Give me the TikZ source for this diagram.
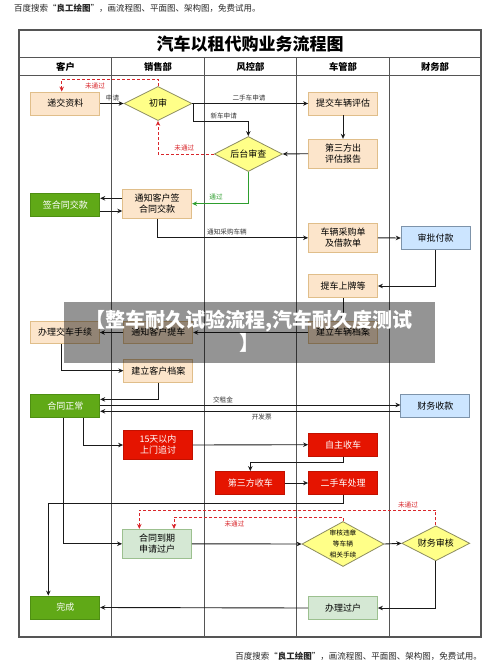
\documentclass[tikz,border=0pt]{standalone}
\usepackage{fontspec}
\setmainfont{Noto Sans CJK SC}
\usetikzlibrary{shapes.geometric,arrows.meta,calc}
\definecolor{ofill}{HTML}{FCE5CB}
\definecolor{odraw}{HTML}{E0BE8A}
\definecolor{yfill}{HTML}{FFFF88}
\definecolor{ydraw}{HTML}{8C8C60}
\definecolor{gfill}{HTML}{60A917}
\definecolor{gdraw}{HTML}{4E8F12}
\definecolor{bfill}{HTML}{CCE5FF}
\definecolor{bdraw}{HTML}{7D93AA}
\definecolor{rfill}{HTML}{E51400}
\definecolor{rdraw}{HTML}{C21100}
\definecolor{lgfill}{HTML}{D5E8D4}
\definecolor{lgdraw}{HTML}{9CC08F}
\definecolor{redline}{HTML}{D9262B}
\definecolor{greenline}{HTML}{2E9E2E}
\definecolor{laneline}{HTML}{555555}
\definecolor{conn}{HTML}{1A1A1A}
\tikzset{
  basebox/.style={draw, minimum width=69pt, minimum height=23pt, inner sep=0pt, align=center, font=\fontsize{9}{11}\selectfont, line width=0.8pt},
  obox/.style={basebox, fill=ofill, draw=odraw},
  gbox/.style={basebox, fill=gfill, draw=gdraw, text=white},
  bbox/.style={basebox, fill=bfill, draw=bdraw},
  rbox/.style={basebox, fill=rfill, draw=rdraw, text=white},
  lgbox/.style={basebox, fill=lgfill, draw=lgdraw},
  tall/.style={minimum height=29pt},
  dia/.style={diamond, aspect=2, draw=ydraw, fill=yfill, line width=0.8pt, inner sep=0pt, minimum width=68pt, minimum height=34pt, font=\fontsize{9}{11}\selectfont},
  arr/.style={draw=conn, line width=0.9pt, -{Stealth[length=5pt,width=4.5pt]}},
  rarr/.style={draw=redline, line width=0.9pt, dash pattern=on 3pt off 2pt, -{Stealth[length=5pt,width=4.5pt]}},
  garr/.style={draw=greenline, line width=0.9pt, -{Stealth[length=5pt,width=4.5pt]}},
  lbl/.style={font=\fontsize{6.6}{8}\selectfont, inner sep=0.5pt, text=black!80},
  rlbl/.style={font=\fontsize{6.6}{8}\selectfont, inner sep=0.5pt, text=redline},
  glbl/.style={font=\fontsize{6.6}{8}\selectfont, inner sep=0.5pt, text=greenline},
  hdr/.style={font=\fontsize{9.3}{11}\selectfont\bfseries},
  wm/.style={font=\fontsize{8.5}{10}\selectfont, text=black!85, inner sep=0pt}
}
\begin{document}
\begin{tikzpicture}[x=1pt,y=-1pt]
\useasboundingbox (0,0) rectangle (500,666);
\fill[white] (0,0) rectangle (500,666);

% watermarks
\node[wm, anchor=west] (wmtop) at (14,8) {百度搜索“\textbf{良工绘图}”，画流程图、平面图、架构图，免费试用。};
\node[wm, anchor=east] (wmbot) at (482,656) {百度搜索“\textbf{良工绘图}”，画流程图、平面图、架构图，免费试用。};

% frame
\draw[laneline, line width=1.1pt] (19,30) rectangle (481,637);
\draw[laneline, line width=1pt] (19,58) -- (481,58);
\draw[laneline, line width=1pt] (19,75.5) -- (481,75.5);
\foreach \xx in {111.7,204,296.7,389.3} \draw[laneline, line width=1pt] (\xx,58) -- (\xx,637);

\node[font=\fontsize{17}{20}\selectfont\bfseries] (title) at (250,44) {汽车以租代购业务流程图};
\node[hdr] (h1) at (65.5,67) {客户};
\node[hdr] (h2) at (158,67) {销售部};
\node[hdr] (h3) at (250.5,67) {风控部};
\node[hdr] (h4) at (343,67) {车管部};
\node[hdr] (h5) at (435,67) {财务部};

% nodes
\node[obox] (djzl) at (65.3,103.5) {递交资料};
\node[dia] (cs) at (158,103.5) {初审};
\node[obox] (tjpg) at (343,103.5) {提交车辆评估};
\node[obox, tall] (dsfbg) at (343,153.7) {第三方出\\评估报告};
\node[dia, minimum height=35pt] (htsc) at (248.3,154) {后台审查};
\node[gbox] (qht) at (65.3,204.7) {签合同交款};
\node[obox, tall] (tzqy) at (157.2,203.7) {通知客户签\\合同交款};
\node[obox, tall] (clcg) at (343,237.8) {车辆采购单\\及借款单};
\node[bbox] (spfk) at (435.7,238) {审批付款};
\node[obox] (tcsp) at (343,286) {提车上牌等};
\node[obox, minimum height=22pt] (jlcl) at (343,332.5) {建立车辆档案};
\node[obox, minimum height=22pt] (tzkt) at (158.3,332.5) {通知客户提车};
\node[obox, minimum height=22pt] (bljc) at (65,332.5) {办理交车手续};
\node[obox] (jlkh) at (158.3,370.7) {建立客户档案};
\node[gbox] (htzc) at (65.3,405.7) {合同正常};
\node[bbox] (cwsk) at (435.3,405.7) {财务收款};
\node[rbox, tall] (zt15) at (158,445) {15天以内\\上门追讨};
\node[rbox] (zzsc) at (343,444.7) {自主收车};
\node[rbox] (dsfsc) at (250.3,483) {第三方收车};
\node[rbox] (escl) at (343,483) {二手车处理};
\node[lgbox, tall] (htdq) at (157,543.8) {合同到期\\申请过户};
\node[dia, minimum width=82pt, minimum height=45pt] (shwz) at (343,544) {};
\node[font=\fontsize{6.7}{11}\selectfont, align=center, inner sep=0pt] (shwzt) at (shwz) {审核违章\\等车辆\\相关手续};
\node[dia, minimum height=35pt] (cwsh) at (435.8,543.3) {财务审核};
\node[lgbox] (blgh) at (343,608) {办理过户};
\node[gbox] (wc) at (65.3,607.5) {完成};

% connectors
\draw[arr] (djzl.east) -- (cs.west);
\node[lbl] (l1) at (112.5,98) {申请};
\draw[rarr] (cs.north) -- ++(0,-6.7) -| ([xshift=-3.6pt]djzl.north);
\node[rlbl] (l2) at (95,85.5) {未通过};
\draw[arr] (cs.east) -- (tjpg.west);
\node[lbl] (l3) at (249,98) {二手车申请};
\draw[arr] (cs.east) -- ++(1,0) -- ++(0,18.3) -| (htsc.north);
\node[lbl] (l4) at (223.7,116) {新车申请};
\draw[arr] (tjpg.south) -- (dsfbg.north);
\draw[arr] (dsfbg.west) -- (htsc.east);
\draw[rarr] (htsc.west) -| (cs.south);
\node[rlbl] (l5) at (184.3,148.3) {未通过};
\draw[garr] (htsc.south) |- (tzqy.east);
\node[glbl] (l6) at (216,197.3) {通过};
\draw[arr] ([yshift=5.4pt]tzqy.west) -- ([yshift=5.4pt]tzqy.west -| qht.east);
\draw[arr] ([yshift=-7.3pt]tzqy.west -| qht.east) -- ([yshift=-7.3pt]tzqy.west);
\draw[arr] (tzqy.south) |- (clcg.west);
\node[lbl] (l7) at (227,232.3) {通知采购车辆};
\draw[arr] (clcg.east) -- (spfk.west);
\draw[arr] (spfk.south) |- (tcsp.east);
\draw[arr] (tcsp.south) -- (jlcl.north);
\draw[arr] (jlcl.west) -- (tzkt.east);
\draw[arr] (tzkt.west) -- (bljc.east);
\draw[arr] ([xshift=-4pt]bljc.south) |- (jlkh.west);
\draw[arr] (jlkh.south) |- ([yshift=6.3pt]htzc.east);
\draw[arr] ([yshift=0.7pt]htzc.east) -- ([yshift=0.7pt]cwsk.west);
\node[lbl] (l8) at (223,400) {交租金};
\draw[arr] ([yshift=-5.6pt]cwsk.west) -- ([yshift=-5.6pt]htzc.east);
\node[lbl] (l9) at (261.7,416.7) {开发票};
\draw[arr] ([xshift=18pt]htzc.south) |- (zt15.west);
\draw[arr] (zt15.east) -- (zzsc.west);
\draw[arr] (zzsc.south) -- ++(0,6.3) -| (dsfsc.north);
\draw[arr] (dsfsc.east) -- (escl.west);
\draw[arr] (escl.south) -- ++(0,8.7) -| ([xshift=-17pt]wc.north);
\draw[arr] ([xshift=-2pt]htzc.south) |- (htdq.west);
\draw[arr] (htdq.east) -- (shwz.west);
\draw[arr] (shwz.east) -- (cwsh.west);
\draw[rarr] (shwz.north) -- ++(0,-4) -| ([xshift=17pt]htdq.north);
\node[rlbl] (l10) at (234.5,524) {未通过};
\draw[rarr] (cwsh.north) -- ++(0,-15.3) -| ([xshift=-17.7pt]htdq.north);
\node[rlbl] (l11) at (408,505) {未通过};
\draw[arr] (cwsh.south) |- (blgh.east);
\draw[arr] (blgh.west) -- (wc.east);

% overlay banner
\fill[black, opacity=0.42] (64,302) rectangle (435,363.3);
\node[font=\fontsize{20}{23}\selectfont\bfseries, text=white, align=center, inner sep=0pt] (banner) at (249,331.7) {【整车耐久试验流程,汽车耐久度测试\\】};
\end{tikzpicture}
\end{document}
